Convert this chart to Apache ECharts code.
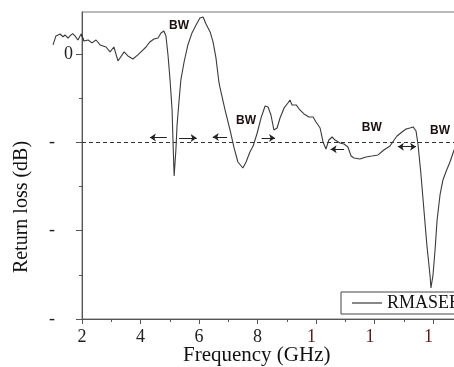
<!DOCTYPE html>
<html>
<head>
<meta charset="utf-8">
<script src="https://cdn.jsdelivr.net/npm/echarts@6/dist/echarts.min.js"></script>
<style>
  html, body { margin: 0; padding: 0; background: #fff; }
  #chart { width: 454px; height: 367px; }
</style>
</head>
<body>
<div id="chart"></div>
<script>
// frekuensi (GHz) dan return loss (dB)
var freq = [1.01, 1.11, 1.25, 1.35, 1.42, 1.52, 1.59, 1.68, 1.76, 1.86, 1.97, 2.07, 2.21,
    2.34, 2.48, 2.62, 2.82, 2.96, 3.09, 3.23, 3.44, 3.57, 3.74,
    3.91, 4.05, 4.19, 4.32, 4.46, 4.60, 4.70, 4.80, 4.87, 4.94,
    5.01, 5.08, 5.11, 5.15, 5.21, 5.25, 5.32, 5.38, 5.49, 5.62,
    5.76, 5.90, 6.03, 6.14, 6.24, 6.38, 6.48, 6.58, 6.68, 6.72,
    6.89, 7.06, 7.20, 7.33, 7.50, 7.61, 7.74, 7.85, 7.98, 8.12,
    8.26, 8.36, 8.46, 8.56, 8.67, 8.77, 8.91, 9.04, 9.11, 9.18,
    9.32, 9.45, 9.59, 9.76, 9.90, 10.00, 10.14, 10.24, 10.34, 10.44,
    10.55, 10.65, 10.82, 10.96, 11.09, 11.20, 11.30, 11.50, 11.71, 11.91,
    12.12, 12.32, 12.53, 12.67, 12.77, 12.94, 13.08, 13.21, 13.32, 13.42,
    13.49, 13.59, 13.69, 13.79, 13.90, 13.93, 14.00, 14.07, 14.14, 14.24,
    14.34, 14.44, 14.58, 14.72, 15.00, 15.30];
var returnLoss = [1.02, 2.04, 2.26, 1.95, 2.15, 1.80, 2.04, 2.30, 2.04, 1.58, 2.26, 1.47, 1.58,
    1.25, 1.58, 1.02, 0.79, 0.23, 0.79, -0.79, 0.23, -0.23, -0.57,
    -0.11, 0.34, 0.79, 1.36, 1.70, 1.81, 2.38, 2.60, 2.04, -0.11,
    -2.94, -6.34, -9.74, -13.81, -10.87, -8.04, -5.21, -2.94, -0.91, 1.02,
    2.38, 3.28, 4.08, 4.19, 3.40, 2.49, 1.36, -0.45, -3.17, -3.85,
    -6.34, -8.60, -10.64, -12.23, -12.91, -12.23, -11.09, -10.42, -9.06, -7.25,
    -5.89, -6.00, -6.91, -8.60, -8.38, -7.25, -6.11, -5.55, -5.21, -5.77,
    -5.77, -6.34, -6.79, -7.13, -7.13, -7.70, -8.38, -9.96, -10.76, -9.74,
    -9.40, -9.74, -10.08, -10.19, -10.53, -11.55, -11.77, -11.89, -11.66, -11.55,
    -11.43, -10.87, -10.42, -9.74, -9.28, -8.83, -8.49, -8.38, -8.26, -8.72,
    -10.30, -13.70, -17.66, -21.62, -25.13, -26.49, -25.02, -22.19, -18.79, -15.96,
    -14.26, -13.36, -12.23, -10.87, -9.80, -9.20];

var yMajor = [-30, -20, -10, 0];
var yMinor = [-25, -15, -5];
var batasRL = -10;

// panah bandwidth: [x awal, x ujung, y], ujung = kepala panah
var panahBW = [
    [4.90, 4.32, -9.45],
    [5.32, 5.92, -9.51],
    [6.96, 6.47, -9.40],
    [8.14, 8.60, -9.51],
    [10.96, 10.50, -10.79]
];
var panahDua = [12.80, 13.42, -10.49];
// posisi teks BW
var labelBW = [[5.32, 3.20], [7.61, -7.59], [11.91, -8.38], [14.24, -8.72]];

var serif = '"Liberation Serif", "Times New Roman", serif';
var warnaKurva = '#3a3a3a';

var chartDom = document.getElementById('chart');
var myChart = echarts.init(chartDom, null, { renderer: 'canvas' });

var dataKurva = freq.map(function(f, i) { return [f, returnLoss[i]]; });
// bagian kurva yang keluar ke kiri sumbu Y (sebelum 2 GHz)
var dataKiri = dataKurva.filter(function(d) { return d[0] <= 2.1; });

var garisPanah = panahBW.map(function(p) {
    return [
        { coord: [p[0], p[2]], symbol: 'none' },
        { coord: [p[1], p[2]], symbol: 'arrow' }
    ];
});
garisPanah.push([
    { coord: [panahDua[0], panahDua[2]], symbol: 'arrow' },
    { coord: [panahDua[1], panahDua[2]], symbol: 'arrow' }
]);
// garis batas -10 dB
garisPanah.push({
    yAxis: batasRL,
    symbol: 'none',
    lineStyle: { type: [4, 3], color: '#333', width: 1 }
});

var option = {
    animation: false,
    grid: [{
        left: 82,
        top: 12,
        width: 409.5,
        bottom: 48,
        show: true,
        borderColor: '#777',
        borderWidth: 1,
        outerBoundsMode: 'none'
    }, {
        left: 52.75,
        top: 12,
        width: 29.25,
        bottom: 48,
        outerBoundsMode: 'none'
    }],
    legend: {
        left: 341,
        top: 292,
        padding: [2, 4, 2, 11],
        borderColor: '#444',
        borderWidth: 1,
        itemWidth: 30,
        itemHeight: 1.2,
        icon: 'rect',
        itemStyle: { color: warnaKurva },
        textStyle: { fontFamily: serif, fontSize: 18, color: '#111' },
        data: ['RMASEB']
    },
    xAxis: [{
        type: 'value',
        gridIndex: 0,
        min: 2,
        max: 16,
        interval: 2,
        name: 'Frequency (GHz)',
        nameLocation: 'middle',
        nameGap: 26,
        nameMoveOverlap: false,
        nameTextStyle: { fontFamily: serif, fontSize: 21, color: '#111', padding: [0, 60, 0, 0] },
        splitLine: { show: false },
        axisLine: { onZero: false, lineStyle: { color: '#555', width: 1 } },
        axisTick: { length: 5, lineStyle: { color: '#555' } },
        minorTick: { show: true, splitNumber: 2, length: 3, lineStyle: { color: '#555' } },
        axisLabel: {
            margin: 9,
            formatter: function(v) {
                if (v >= 10) return '{a|1}{h|' + String(v).slice(1) + '}';
                return '{b|' + v + '}';
            },
            rich: {
                a: { fontFamily: serif, fontSize: 18, color: '#5a1c1c' },
                b: { fontFamily: serif, fontSize: 18, color: '#222' },
                h: { fontFamily: serif, fontSize: 18, color: 'rgba(0,0,0,0)' }
            }
        }
    }, {
        type: 'value',
        gridIndex: 1,
        min: 1,
        max: 2,
        show: false
    }],
    yAxis: [{
        type: 'value',
        gridIndex: 0,
        min: -30,
        max: 4.75,
        name: 'Return loss (dB)',
        nameLocation: 'middle',
        nameRotate: 90,
        nameGap: 50,
        nameTextStyle: { fontFamily: serif, fontSize: 20, color: '#111', padding: [0, 83, 0, 0] },
        splitLine: { show: false },
        axisLine: { onZero: false, lineStyle: { color: '#555', width: 1 } },
        axisTick: { length: 6, customValues: yMajor, lineStyle: { color: '#555' } },
        axisLabel: {
            margin: 9,
            customValues: yMajor,
            formatter: function(v) {
                if (v === 0) return '{b|0}';
                return '{b|-}{h|' + String(-v) + '}';
            },
            rich: {
                b: { fontFamily: serif, fontSize: 18, color: '#222' },
                h: { fontFamily: serif, fontSize: 18, color: 'rgba(0,0,0,0)' }
            }
        }
    }, {
        type: 'value',
        gridIndex: 0,
        position: 'left',
        min: -30,
        max: 4.75,
        splitLine: { show: false },
        axisLine: { show: false, onZero: false },
        axisTick: { length: 3, customValues: yMinor, lineStyle: { color: '#555' } },
        axisLabel: { show: false }
    }, {
        type: 'value',
        gridIndex: 1,
        min: -30,
        max: 4.75,
        show: false
    }],
    series: [{
        name: 'RMASEB',
        type: 'line',
        xAxisIndex: 0,
        yAxisIndex: 0,
        data: dataKurva,
        symbol: 'none',
        lineStyle: { color: warnaKurva, width: 1.1 },
        itemStyle: { color: warnaKurva },
        markLine: {
            silent: true,
            symbolSize: [6, 6],
            label: { show: false },
            lineStyle: { type: 'solid', color: '#222', width: 1 },
            data: garisPanah
        },
        markPoint: {
            silent: true,
            symbol: 'rect',
            symbolSize: 1,
            itemStyle: { color: 'rgba(0,0,0,0)' },
            label: {
                show: true,
                position: 'inside',
                formatter: 'BW',
                fontFamily: '"Liberation Sans", Arial, sans-serif',
                fontWeight: 'bold',
                fontSize: 12,
                color: '#1a1010'
            },
            data: labelBW.map(function(p) { return { coord: p }; })
        }
    }, {
        name: 'RMASEB',
        type: 'line',
        xAxisIndex: 1,
        yAxisIndex: 2,
        data: dataKiri,
        symbol: 'none',
        lineStyle: { color: warnaKurva, width: 1.1 },
        itemStyle: { color: warnaKurva }
    }]
};
myChart.setOption(option);
</script>
</body>
</html>
